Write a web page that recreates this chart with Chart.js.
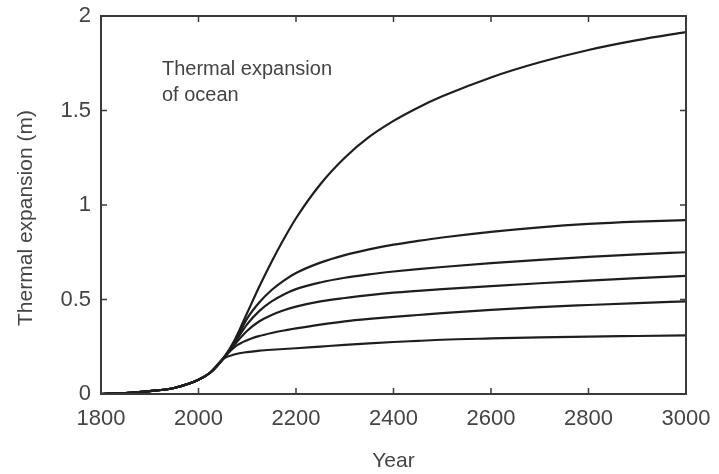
<!DOCTYPE html>
<html>
<head>
<meta charset="utf-8">
<script src="https://cdn.jsdelivr.net/npm/chart.js@4.4.1/dist/chart.umd.min.js"></script>
<style>
  html, body { margin: 0; padding: 0; background: #fff; }
  #wrap { width: 719px; height: 474px; }
</style>
</head>
<body>
<div id="wrap"><canvas id="expansion_chart"></canvas></div>
<script>
// years sampled along every curve
var years = [1800, 1850, 1900, 1950, 2000, 2025, 2050, 2075, 2100, 2125, 2150, 2175,
             2200, 2250, 2300, 2350, 2400, 2450, 2500, 2600, 2700, 2800, 2900, 3000];

// thermal expansion (m), one array per scenario
var expansionTop = [0, 0.005, 0.015, 0.032, 0.075, 0.115, 0.185, 0.29, 0.43, 0.57, 0.70, 0.82,
                    0.93, 1.11, 1.25, 1.36, 1.445, 1.515, 1.575, 1.675, 1.755, 1.82, 1.872, 1.915];
var expansion92 = [0, 0.005, 0.015, 0.032, 0.075, 0.115, 0.185, 0.28, 0.40, 0.485, 0.55, 0.60,
                   0.64, 0.695, 0.735, 0.765, 0.79, 0.81, 0.828, 0.858, 0.882, 0.90, 0.912, 0.92];
var expansion75 = [0, 0.005, 0.015, 0.032, 0.075, 0.115, 0.185, 0.275, 0.37, 0.44, 0.49, 0.527,
                   0.555, 0.59, 0.615, 0.633, 0.648, 0.661, 0.672, 0.692, 0.71, 0.726, 0.739, 0.75];
var expansion62 = [0, 0.005, 0.015, 0.032, 0.075, 0.115, 0.185, 0.265, 0.335, 0.385, 0.418, 0.443,
                   0.462, 0.49, 0.508, 0.523, 0.536, 0.546, 0.555, 0.571, 0.586, 0.60, 0.613, 0.625];
var expansion49 = [0, 0.005, 0.015, 0.032, 0.075, 0.115, 0.185, 0.25, 0.285, 0.307, 0.323, 0.336,
                   0.347, 0.367, 0.384, 0.397, 0.408, 0.418, 0.428, 0.445, 0.46, 0.471, 0.481, 0.49];
var expansion31 = [0, 0.005, 0.015, 0.032, 0.075, 0.115, 0.185, 0.21, 0.222, 0.229, 0.234, 0.238,
                   0.242, 0.251, 0.26, 0.268, 0.275, 0.281, 0.287, 0.294, 0.30, 0.304, 0.307, 0.31];

var xTicks = [1800, 2000, 2200, 2400, 2600, 2800, 3000];
var yTicks = [0, 0.5, 1, 1.5, 2];

var noteLines = ['Thermal expansion', 'of ocean'];
var yTitle = 'Thermal expansion (m)';

var textColor = '#444444';
var lineColor = '#1e1e1e';
var frameColor = '#3a3a3a';
var fontFamily = '"Liberation Sans", Arial, sans-serif';

function points(values) {
    var out = [];
    for (var i in years) {
        out.push({ x: years[i], y: values[i] });
    }
    return out;
}

function curve(values) {
    return {
        data: points(values),
        borderColor: lineColor,
        borderWidth: 2.2,
        pointRadius: 0,
        fill: false,
        cubicInterpolationMode: 'monotone'
    };
}

// box around the plot, inward ticks on all four sides, the note and the y title
var framePlugin = {
    id: 'frame',
    afterDraw: function (chart) {
        var ctx = chart.ctx;
        var a = chart.chartArea;
        var x = chart.scales.x;
        var y = chart.scales.y;
        ctx.save();
        ctx.strokeStyle = frameColor;
        ctx.lineWidth = 2;
        ctx.strokeRect(a.left, a.top, a.right - a.left, a.bottom - a.top);

        ctx.lineWidth = 1.5;
        ctx.beginPath();
        xTicks.forEach(function (v) {
            var px = x.getPixelForValue(v);
            ctx.moveTo(px, a.bottom); ctx.lineTo(px, a.bottom - 6);
            ctx.moveTo(px, a.top); ctx.lineTo(px, a.top + 6);
        });
        yTicks.forEach(function (v) {
            var py = y.getPixelForValue(v);
            ctx.moveTo(a.left, py); ctx.lineTo(a.left + 6, py);
            ctx.moveTo(a.right, py); ctx.lineTo(a.right - 6, py);
        });
        ctx.stroke();

        ctx.fillStyle = textColor;
        ctx.font = '20px ' + fontFamily;
        ctx.textAlign = 'left';
        ctx.textBaseline = 'middle';
        var nx = x.getPixelForValue(1925);
        ctx.fillText(noteLines[0], nx, y.getPixelForValue(1.715));
        ctx.fillText(noteLines[1], nx, y.getPixelForValue(1.58));

        // y title sits a little below the middle of the axis
        ctx.font = '21px ' + fontFamily;
        ctx.textAlign = 'center';
        ctx.translate(26, (a.top + a.bottom) / 2 + 13);
        ctx.rotate(-Math.PI / 2);
        ctx.fillText(yTitle, 0, 0);
        ctx.restore();
    }
};

function plainLabel(value) {
    return String(value);
}

var ctx = document.getElementById('expansion_chart');

var lineGraph = new Chart(ctx, {
    type: 'line',
    data: {
        datasets: [
            curve(expansionTop),
            curve(expansion92),
            curve(expansion75),
            curve(expansion62),
            curve(expansion49),
            curve(expansion31)
        ]
    },
    options: {
        responsive: true,
        maintainAspectRatio: false,
        animation: false,
        layout: { padding: { left: 0, right: 33, top: 16, bottom: 0 } },
        plugins: {
            legend: { display: false },
            tooltip: { enabled: false }
        },
        scales: {
            x: {
                type: 'linear',
                min: 1800,
                max: 3000,
                afterBuildTicks: function (scale) {
                    scale.ticks = xTicks.map(function (v) { return { value: v }; });
                },
                afterFit: function (scale) {
                    scale.height = 80;
                    scale.paddingLeft = 0;
                    scale.paddingRight = 0;
                },
                grid: { display: false, drawTicks: false },
                border: { display: false },
                ticks: {
                    color: textColor,
                    padding: 12,
                    maxRotation: 0,
                    callback: plainLabel,
                    font: { family: fontFamily, size: 22 }
                },
                title: {
                    display: true,
                    text: 'Year',
                    color: textColor,
                    padding: { top: 0, bottom: 0 },
                    font: { family: fontFamily, size: 21 }
                }
            },
            y: {
                min: 0,
                max: 2,
                afterBuildTicks: function (scale) {
                    scale.ticks = yTicks.map(function (v) { return { value: v }; });
                },
                afterFit: function (scale) {
                    scale.width = 101;
                    scale.paddingTop = 0;
                    scale.paddingBottom = 0;
                },
                grid: { display: false, drawTicks: false },
                border: { display: false },
                ticks: {
                    color: textColor,
                    padding: 10,
                    callback: plainLabel,
                    font: { family: fontFamily, size: 22 }
                },
                title: { display: false }
            }
        }
    },
    plugins: [framePlugin]
});
</script>
</body>
</html>
